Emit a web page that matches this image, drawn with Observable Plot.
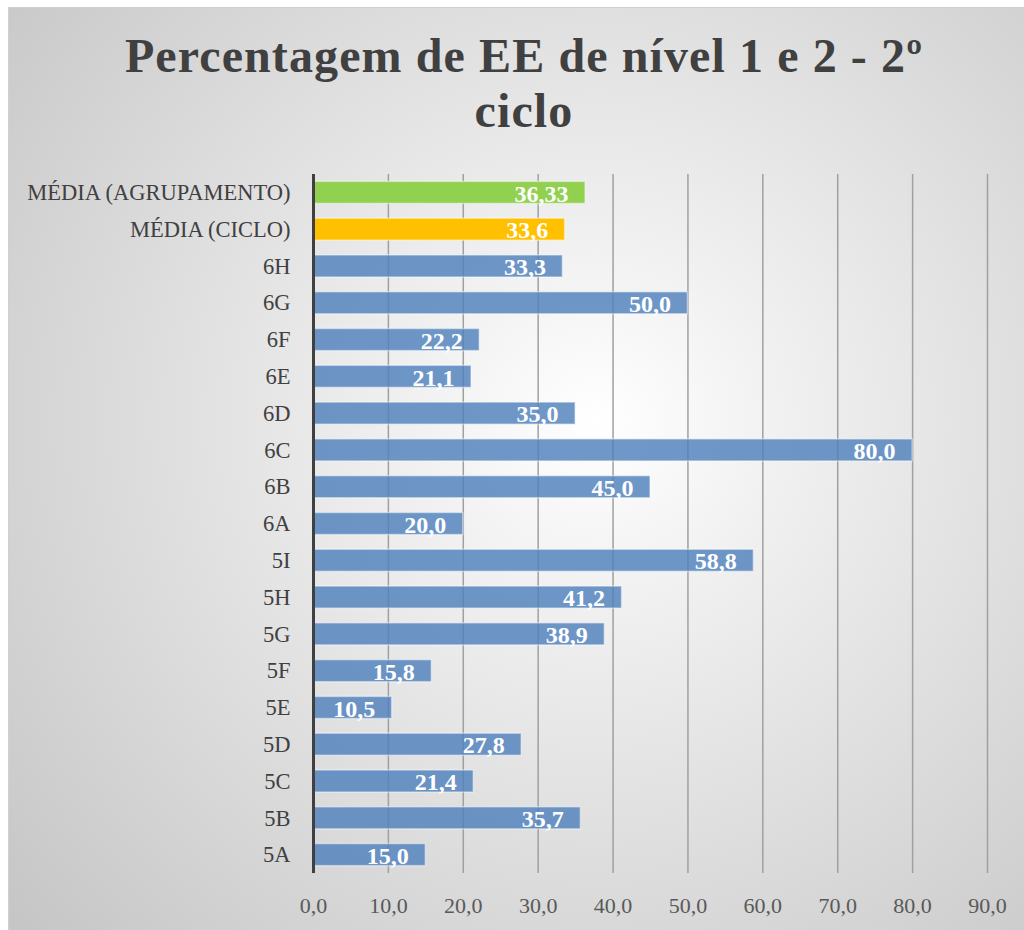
<!DOCTYPE html>
<html>
<head>
<meta charset="utf-8">
<script src="https://cdn.jsdelivr.net/npm/d3@7"></script>
<script src="https://cdn.jsdelivr.net/npm/@observablehq/plot@0.6"></script>
<style>
  html, body { margin: 0; padding: 0; background: #ffffff; width: 1024px; height: 930px; overflow: hidden; }
  #frame {
    position: absolute; left: 8px; top: 7px; width: 1030px; height: 940px;
    background: radial-gradient(ellipse 75% 80% at 57% 44%, #ffffff 0%, #f0f0f0 25%, #c6c6c6 100%);
    border-left: 1px solid #d0d0d0; border-top: 1px solid #d0d0d0;
  }
  #title {
    position: absolute; left: 0; top: 28px; width: 1048px; text-align: center;
    font-family: "Liberation Serif", serif; font-weight: bold; font-size: 48px;
    line-height: 55px; color: #404040; letter-spacing: 1.1px;
  }
  #plot { position: absolute; left: 0; top: 150px; }
</style>
</head>
<body>
<div id="frame"></div>
<div id="title">Percentagem de EE de nível 1 e 2 - 2º<br>ciclo</div>
<div id="plot"></div>
<script>
// Categories, top to bottom
const categories = [
  "MÉDIA (AGRUPAMENTO)", "MÉDIA (CICLO)",
  "6H", "6G", "6F", "6E", "6D", "6C", "6B", "6A",
  "5I", "5H", "5G", "5F", "5E", "5D", "5C", "5B", "5A"
];
const values = [
  36.33, 33.6,
  33.3, 50.0, 22.2, 21.1, 35.0, 80.0, 45.0, 20.0,
  58.8, 41.2, 38.9, 15.8, 10.5, 27.8, 21.4, 35.7, 15.0
];
const groups = [
  "agrupamento", "ciclo",
  "turma", "turma", "turma", "turma", "turma", "turma", "turma", "turma",
  "turma", "turma", "turma", "turma", "turma", "turma", "turma", "turma", "turma"
];
const xTicks = [0, 10, 20, 30, 40, 50, 60, 70, 80, 90];

const data = categories.map((c, i) => ({cat: c, value: values[i], group: groups[i]}));

const fmt = v => (Math.round(v * 10) === v * 10 ? v.toFixed(1) : v.toFixed(2)).replace(".", ",");

const chart = Plot.plot({
  width: 1024,
  height: 780,
  marginLeft: 313,
  marginRight: 37,
  marginTop: 24,
  marginBottom: 57,
  style: {
    background: "transparent",
    fontFamily: "'Liberation Serif', serif",
    color: "#404040",
    overflow: "visible"
  },
  x: {domain: [0, 90], ticks: xTicks, tickFormat: d => d.toFixed(1).replace(".", ","), label: null},
  y: {domain: categories, paddingInner: 0.4, paddingOuter: 0.2, round: false, label: null},
  color: {
    domain: ["agrupamento", "ciclo", "turma"],
    range: ["#92D050", "#FFC000", "#4F81BD"]
  },
  marks: [
    Plot.gridX(xTicks.filter(d => d > 0), {stroke: "#a0a0a0", strokeOpacity: 1, strokeWidth: 1.5}),
    Plot.barX(data, {
      x: "value", y: "cat", fill: "group",
      fillOpacity: d => d.group === "turma" ? 0.82 : 1,
      stroke: "#ffffff", strokeOpacity: 0.45, strokeWidth: 1.5
    }),
    Plot.ruleX([0], {stroke: "#404040", strokeWidth: 3}),
    Plot.text(data, {
      x: "value", y: "cat", text: d => fmt(d.value),
      textAnchor: "end", dx: -17, dy: 1,
      fill: "#ffffff", fontWeight: "bold", fontSize: 24
    }),
    Plot.axisY({tickSize: 0, tickPadding: 23, fontSize: 22.5, label: null, fill: "#404040"}),
    Plot.axisX({ticks: xTicks, tickSize: 0, tickPadding: 24, fontSize: 22, label: null, fill: "#595959",
                tickFormat: d => d.toFixed(1).replace(".", ",")})
  ]
});
document.getElementById("plot").appendChild(chart);
</script>
</body>
</html>
